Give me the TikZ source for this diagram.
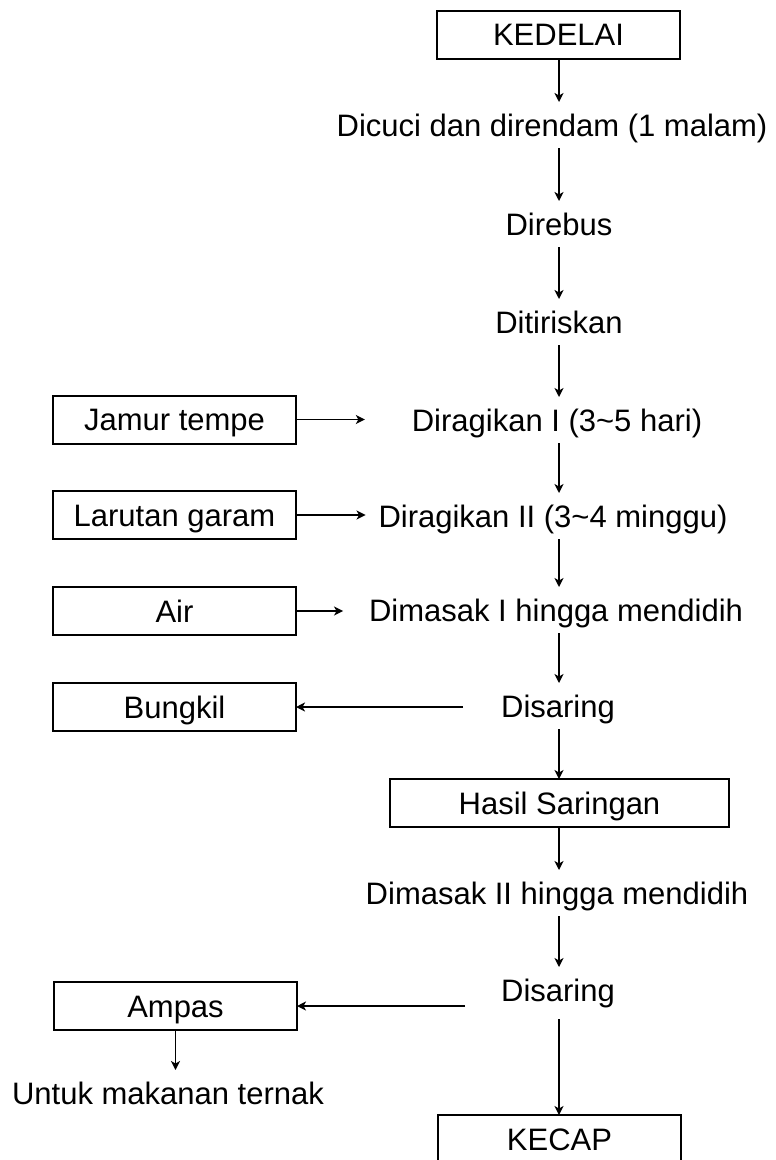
\documentclass[tikz,border=0pt]{standalone}
\usepackage{fontspec}
\setmainfont{Liberation Sans}
\usetikzlibrary{arrows.meta}
\begin{document}
\begin{tikzpicture}[x=1pt,y=-1pt,
  txt/.style={inner xsep=0pt, inner ysep=12pt, text height=22pt, text depth=0pt, outer sep=0pt},
  box/.style={draw, line width=2pt, minimum width=243pt, minimum height=48pt, inner sep=0pt, text height=22pt, text depth=0pt, outer sep=0pt},
  arr/.style={line width=1.8pt, -{Stealth[length=9pt,width=9pt,inset=2.5pt]}},
  every node/.style={font=\fontsize{31pt}{37pt}\selectfont}]
\useasboundingbox (0,0) rectangle (776,1160);
\clip (0,0) rectangle (776,1160);
\coordinate (col) at (559,0);
% main column
\node[box] (kedelai) at (558.5,34.5) {KEDELAI};
\node[txt] (dicuci) at (552,125) {Dicuci dan direndam (1 malam)};
\node[txt] (direbus) at (559,224) {Direbus};
\node[txt] (tiris) at (559,322) {Ditiriskan};
\node[txt] (ragi1) at (557,420) {Diragikan I (3\char`\~5 hari)};
\node[txt] (ragi2) at (553,516) {Diragikan II (3\char`\~4 minggu)};
\node[txt] (masak1) at (556,610) {Dimasak I hingga mendidih};
\node[txt] (saring1) at (558,706) {Disaring};
\node[box, minimum width=339pt] (hasil) at (559.5,803) {Hasil Saringan};
\node[txt] (masak2) at (557,893) {Dimasak II hingga mendidih};
\node[txt] (saring2) at (558,990) {Disaring};
\node[box] (kecap) at (559.5,1139) {KECAP};
% side boxes
\node[box] (jamur) at (174.5,419.5) {Jamur tempe};
\node[box] (larutan) at (174.5,515) {Larutan garam};
\node[box] (air) at (174.5,611) {Air};
\node[box] (bungkil) at (174.5,707) {Bungkil};
\node[box] (ampas) at (175.5,1006) {Ampas};
\node[txt] (untuk) at (168,1093) {Untuk makanan ternak};
% vertical arrows
\draw[arr] (kedelai.south -| col) -- (dicuci.north -| col);
\draw[arr] (dicuci.south -| col) -- (direbus.north -| col);
\draw[arr] (direbus.south -| col) -- (tiris.north -| col);
\draw[arr] (tiris.south -| col) -- (ragi1.north -| col);
\draw[arr] (ragi1.south -| col) -- (ragi2.north -| col);
\draw[arr] (ragi2.south -| col) -- (masak1.north -| col);
\draw[arr] (masak1.south -| col) -- (saring1.north -| col);
\draw[arr] (saring1.south -| col) -- (hasil.north -| col);
\draw[arr] (hasil.south -| col) -- (masak2.north -| col);
\draw[arr] (masak2.south -| col) -- (saring2.north -| col);
\draw[arr, shorten <=6pt] (saring2.south -| col) -- (kecap.north -| col);
\draw[arr] (ampas.south) -- (ampas.south |- untuk.north);
% horizontal arrows
\draw[arr, shorten >=47pt] (jamur.east) -- (jamur.east -| ragi1.west);
\draw[arr, shorten >=13pt] (larutan.east) -- (larutan.east -| ragi2.west);
\draw[arr, shorten >=26pt] (air.east) -- (air.east -| masak1.west);
\draw[arr, shorten <=38pt] (saring1.west |- bungkil.east) -- (bungkil.east);
\draw[arr, shorten <=36pt] (saring2.west |- ampas.east) -- (ampas.east);
\end{tikzpicture}
\end{document}
